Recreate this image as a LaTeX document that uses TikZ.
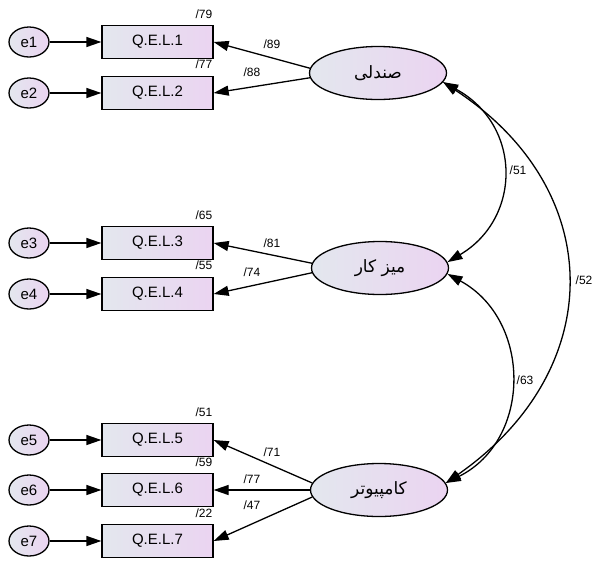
\documentclass[tikz,border=0pt]{standalone}
\usepackage{fontspec}
\setmainfont{Liberation Sans}
\newfontfamily\arabicfont[Script=Arabic]{DejaVu Sans}
\TeXXeTstate=1
\usetikzlibrary{arrows.meta,shapes.geometric}
\definecolor{boxL}{HTML}{E3E7EE}
\definecolor{boxR}{HTML}{EBD4F1}
\begin{document}
\begin{tikzpicture}[x=1pt,y=-1pt,
  ind/.style={draw,line width=1.3pt,minimum width=111pt,minimum height=33pt,inner sep=0pt,
    left color=boxL,right color=boxR,font=\fontsize{15}{15}\selectfont},
  err/.style={ellipse,draw,line width=1.3pt,minimum width=40pt,minimum height=30pt,inner sep=0pt,
    left color=boxL,right color=boxR,font=\fontsize{15}{15}\selectfont},
  lat/.style={ellipse,draw,line width=1.3pt,minimum width=137pt,minimum height=53pt,inner sep=0pt,
    left color=boxL,right color=boxR,font=\arabicfont\fontsize{17}{17}\selectfont},
  arr/.style={-{Triangle[length=15pt,width=10pt]},line width=1.3pt},
  cov/.style={{Triangle[length=15pt,width=10pt]}-{Triangle[length=15pt,width=10pt]},line width=1.3pt},
  lbl/.style={font=\fontsize{12}{12}\selectfont,inner sep=0pt}]
\fill[white] (0,0) rectangle (594,560);
\useasboundingbox (0,0) rectangle (594,560);
% indicators
\node[ind] (q1) at (157.5,42) {Q.E.L.1};
\node[ind] (q2) at (157.5,93) {Q.E.L.2};
\node[ind] (q3) at (157.5,243) {Q.E.L.3};
\node[ind] (q4) at (157.5,294) {Q.E.L.4};
\node[ind] (q5) at (157.5,440) {Q.E.L.5};
\node[ind] (q6) at (157.5,490) {Q.E.L.6};
\node[ind] (q7) at (157.5,541) {Q.E.L.7};
% errors
\node[err] (e1) at (29,42) {e1};
\node[err] (e2) at (29,93) {e2};
\node[err] (e3) at (29,243) {e3};
\node[err] (e4) at (29,294) {e4};
\node[err] (e5) at (29,440) {e5};
\node[err] (e6) at (29,490) {e6};
\node[err] (e7) at (29,541) {e7};
\foreach \i in {1,...,7} \draw[arr] (e\i) -- (q\i);
% latents
\node[lat] (L1) at (378,73) {\beginR صندلی\endR};
\node[lat] (L2) at (380,268) {\beginR میز کار\endR};
\node[lat] (L3) at (379,490) {\beginR کامپیوتر\endR};
% loadings
\draw[arr] (L1.176) -- (q1.east);
\draw[arr] (L1.184) -- (q2.east);
\draw[arr] (L2.176) -- (q3.east);
\draw[arr] (L2.184) -- (q4.east);
\draw[arr] (L3.174) -- (q5.east);
\draw[arr] (L3.west) -- (q6.east);
\draw[arr] (L3.186) -- (q7.east);
% covariances
\draw[cov] (L1.-8) .. controls (522,125) and (522,218) .. (L2.5);
\draw[cov] (L2.-5) .. controls (532,320) and (532,440) .. (L3.6);
\draw[cov] (L1.-8) .. controls (608,190) and (608,370) .. (L3.6);
% labels
\node[lbl] (r1) at (204,14) {/79};
\node[lbl] (r2) at (204,64) {/77};
\node[lbl] (r3) at (204,215) {/65};
\node[lbl] (r4) at (204,265) {/55};
\node[lbl] (r5) at (204,412) {/51};
\node[lbl] (r6) at (204,462) {/59};
\node[lbl] (r7) at (204,513) {/22};
\node[lbl] (l1) at (272,44) {/89};
\node[lbl] (l2) at (252,72) {/88};
\node[lbl] (l3) at (272,243) {/81};
\node[lbl] (l4) at (252,272) {/74};
\node[lbl] (l5) at (272,452) {/71};
\node[lbl] (l6) at (252,479) {/77};
\node[lbl] (l7) at (252,505) {/47};
\node[lbl] (c12) at (518,170) {/51};
\node[lbl] (c23) at (525,380) {/63};
\node[lbl] (c13) at (584,280) {/52};
\end{tikzpicture}
\end{document}
